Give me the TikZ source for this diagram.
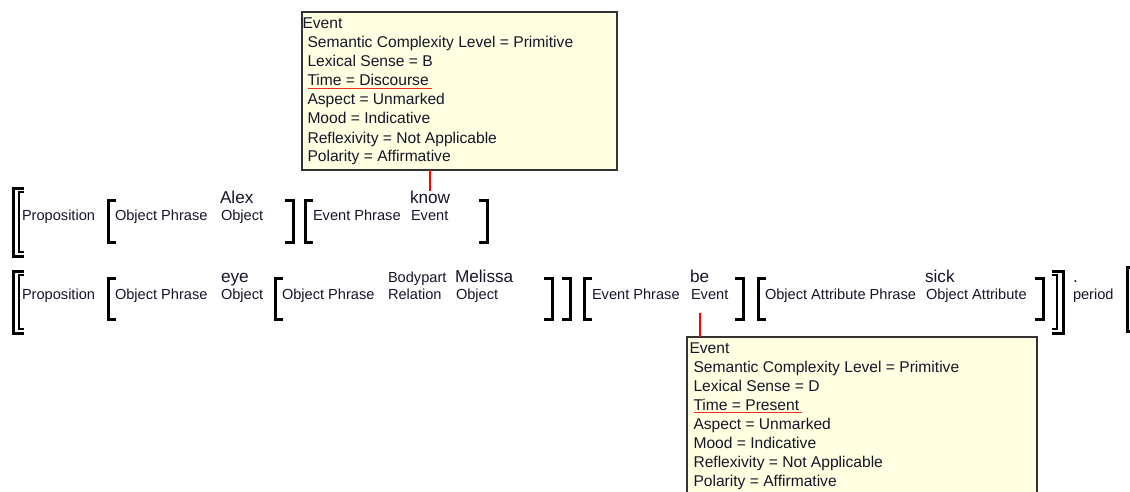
\documentclass[tikz,border=0pt]{standalone}
\usepackage{fontspec}
\setmainfont{Liberation Sans}
\usetikzlibrary{calc}

\definecolor{tipfill}{HTML}{FFFFE1}
\definecolor{inkc}{HTML}{16162A}
\definecolor{linkred}{HTML}{FF0000}
\definecolor{ulred}{HTML}{E8301C}

% opening / closing bracket: x, top y, bottom y
\newcommand{\openbr}[3]{\draw[brk] (#1+8,#2) -- (#1,#2) -- (#1,#3) -- (#1+8,#3);}
\newcommand{\closebr}[3]{\draw[brk] (#1-8,#2) -- (#1,#2) -- (#1,#3) -- (#1-8,#3);}
% double bracket: outer x, inner x, tick end, outer top/bottom, inner top/bottom
\newcommand{\openbrr}[7]{%
  \draw[brk] (#3,#4) -- (#1,#4) -- (#1,#5) -- (#3,#5);
  \draw[brk, line width=2.2pt] (#3,#6) -- (#2,#6) -- (#2,#7) -- (#3,#7);}
\newcommand{\closebrr}[7]{%
  \draw[brk] (#3,#4) -- (#1,#4) -- (#1,#5) -- (#3,#5);
  \draw[brk, line width=2.2pt] (#3,#6) -- (#2,#6) -- (#2,#7) -- (#3,#7);}

\tikzset{
  every node/.style={inner sep=0pt, outer sep=0pt, anchor=base west, text=inkc},
  lab/.style={font=\fontsize{14.6}{17}\selectfont},
  head/.style={font=\fontsize{17.2}{20}\selectfont},
  attr/.style={font=\fontsize{15.6}{19}\selectfont},
  tipbox/.style={draw=black!80, line width=1.3pt, fill=tipfill, anchor=north west},
  brk/.style={draw=black, line width=3pt, line join=miter, line cap=butt},
  link/.style={draw=linkred, line width=2pt},
  uline/.style={draw=ulred, line width=1.1pt},
}

\begin{document}
\begin{tikzpicture}[x=1pt, y=-1pt]
\useasboundingbox (0,0) rectangle (1130,492);

% ---------- first clause ----------
\openbrr{13}{19}{24}{188}{256}{192}{252}
\node[lab] (prop1) at (22,220.5) {Proposition};
\openbr{108}{200}{242}
\node[lab] (op1) at (115,220.5) {Object Phrase};
\node[head] (alex) at (220,203) {Alex};
\node[lab] (obj1) at (221,220.5) {Object};
\closebr{293}{200}{242}
\openbr{305}{200}{242}
\node[lab] (ep1) at (313,220.5) {Event Phrase};
\node[head] (know) at (410,203) {know};
\node[lab] (ev1) at (411,220.5) {Event};
\closebr{487}{200}{242}

% ---------- second clause ----------
\openbrr{13}{19}{24}{271}{333}{275}{329}
\node[lab] (prop2) at (22,299.5) {Proposition};
\openbr{108}{278}{319}
\node[lab] (op2) at (115,299.5) {Object Phrase};
\node[head] (eye) at (221,282) {eye};
\node[lab] (obj2) at (221,299.5) {Object};
\openbr{275}{278}{319}
\node[lab] (op3) at (282,299.5) {Object Phrase};
\node[lab] (bodypart) at (388,282) {Bodypart};
\node[lab] (rel) at (388,299.5) {Relation};
\node[head] (melissa) at (455,282) {Melissa};
\node[lab] (obj3) at (456,299.5) {Object};
\closebr{552}{278}{319}
\closebr{570}{278}{319}
\openbr{584}{278}{319}
\node[lab] (ep2) at (592,299.5) {Event Phrase};
\node[head] (be) at (690,282) {be};
\node[lab] (ev2) at (691,299.5) {Event};
\closebr{743}{278}{319}
\openbr{758}{278}{319}
\node[lab] (oap) at (765,299.5) {Object Attribute Phrase};
\node[head] (sick) at (925,282) {sick};
\node[lab] (oa) at (926,299.5) {Object Attribute};
\closebr{1043}{278}{319}
\closebrr{1063}{1057}{1052}{271}{333}{275}{329}
\node[head] (dot) at (1073,282) {.};
\node[lab] (period) at (1073,299.5) {period};
\openbrr{1127.5}{1133}{1139}{267}{331}{271}{327}

% ---------- feature box of "know" ----------
\node[tipbox, minimum width=315pt, minimum height=158pt] (box1) at (302,12) {};
\node[attr] (b1l0) at (302.5,29) {Event};
\foreach \t [count=\i] in {{Semantic Complexity Level = Primitive},{Lexical Sense = B},{Time = Discourse},{Aspect = Unmarked},{Mood = Indicative},{Reflexivity = Not Applicable},{Polarity = Affirmative}}
  \node[attr] (b1l\i) at (307.5,29+19*\i) {\t};
\draw[uline] ([xshift=0.5pt,yshift=-2.5pt]b1l3.base west) -- ([xshift=3pt,yshift=-2.5pt]b1l3.base east);
\draw[link] (box1.south -| know.north) -- (know.north);

% ---------- feature box of "be" ----------
\node[tipbox, minimum width=350pt, minimum height=172pt] (box2) at (687,337) {};
\node[attr] (b2l0) at (689.5,353.3) {Event};
\foreach \t [count=\i] in {{Semantic Complexity Level = Primitive},{Lexical Sense = D},{Time = Present},{Aspect = Unmarked},{Mood = Indicative},{Reflexivity = Not Applicable},{Polarity = Affirmative}}
  \node[attr] (b2l\i) at (693.5,353.3+19*\i) {\t};
\draw[uline] ([xshift=0.5pt,yshift=-2.5pt]b2l3.base west) -- ([xshift=3pt,yshift=-2.5pt]b2l3.base east);
\draw[link] ($(be.south |- ev2.south)+(0,13.5)$) -- (box2.north -| be.south);
\end{tikzpicture}
\end{document}
